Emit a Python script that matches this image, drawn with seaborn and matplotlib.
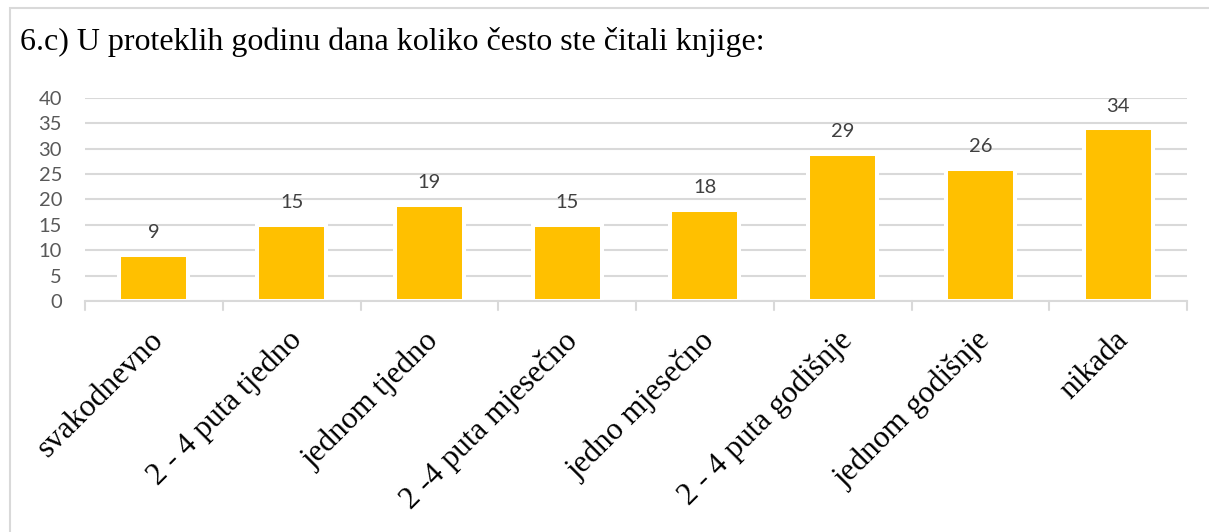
import matplotlib
matplotlib.use("Agg")
import matplotlib.pyplot as plt
from matplotlib.font_manager import FontProperties
from matplotlib.transforms import ScaledTranslation
import seaborn as sns
import pandas as pd
from matplotlib.patches import Rectangle

categories = ["svakodnevno", "2 - 4 puta tjedno", "jednom tjedno", "2 -4 puta mjesečno",
              "jedno mjesečno", "2 - 4 puta godišnje", "jednom godišnje", "nikada"]
counts = [9, 15, 19, 15, 18, 29, 26, 34]
y_ticks = [0, 5, 10, 15, 20, 25, 30, 35, 40]

df = pd.DataFrame({"odgovor": categories, "broj": counts})

sns.set_theme(style="white")
serif = ["Liberation Serif", "DejaVu Serif"]
sans = ["Lato", "DejaVu Sans"]
plt.rcParams["font.family"] = serif

W, H = 1209, 532
fig = plt.figure(figsize=(W / 100, H / 100), dpi=100)
ax = fig.add_axes([85 / W, 1 - 301 / H, (1187 - 85) / W, (301 - 98) / H])

sns.barplot(data=df, x="odgovor", y="broj", color="#FFC000", saturation=1,
            width=0.5, edgecolor="white", linewidth=2.9, ax=ax, zorder=2)

ax.set_ylim(0, 40)
ax.set_xlim(-0.5, len(categories) - 0.5)
ax.tick_params(axis="y", length=0, pad=16.5)
ax.tick_params(axis="x", length=0, pad=12)
ax.yaxis.grid(True, color="#D9D9D9", linewidth=1.5, zorder=0)
ax.set_axisbelow(True)

ax.set_yticks(y_ticks)
ax.set_yticklabels([str(t) for t in y_ticks], color="#595959",
                   fontproperties=FontProperties(family=sans, size=14.5))
ax.set_xticks(list(range(len(categories))))
ax.set_xticklabels(categories, rotation=45, ha="right", rotation_mode="anchor",
                   color="black", fontproperties=FontProperties(family=serif, size=22.5))
# nudge the slanted labels a little left and down
shift = ScaledTranslation(-5 / 100, -8 / 100, fig.dpi_scale_trans)
for lab in ax.get_xticklabels():
    lab.set_transform(lab.get_transform() + shift)

for b in [i - 0.5 for i in range(len(categories) + 1)]:
    ax.plot([b, b], [0, -1.8], color="#D9D9D9", linewidth=1.5, clip_on=False, zorder=3)

for s in ["top", "right", "left"]:
    ax.spines[s].set_visible(False)
ax.spines["bottom"].set_color("#D9D9D9")
ax.spines["bottom"].set_linewidth(1.5)
ax.spines["bottom"].set_zorder(3)
ax.set_xlabel("")
ax.set_ylabel("")

for i, v in enumerate(counts):
    ax.annotate(str(v), (i, v), xytext=(0, 10), textcoords="offset points",
                ha="center", va="bottom", color="#404040",
                fontproperties=FontProperties(family=sans, size=14.5))

fig.text(20 / W, 1 - 42 / H, "6.c) U proteklih godinu dana koliko često ste čitali knjige:",
         color="black", ha="left", va="center",
         fontproperties=FontProperties(family=serif, size=23))

fig.patches.append(Rectangle((10 / W, -0.1), 1.2, 1 - 8 / H + 0.1, transform=fig.transFigure,
                             fill=False, edgecolor="#D9D9D9", linewidth=1.5))

fig.savefig("out.png", dpi=100)
